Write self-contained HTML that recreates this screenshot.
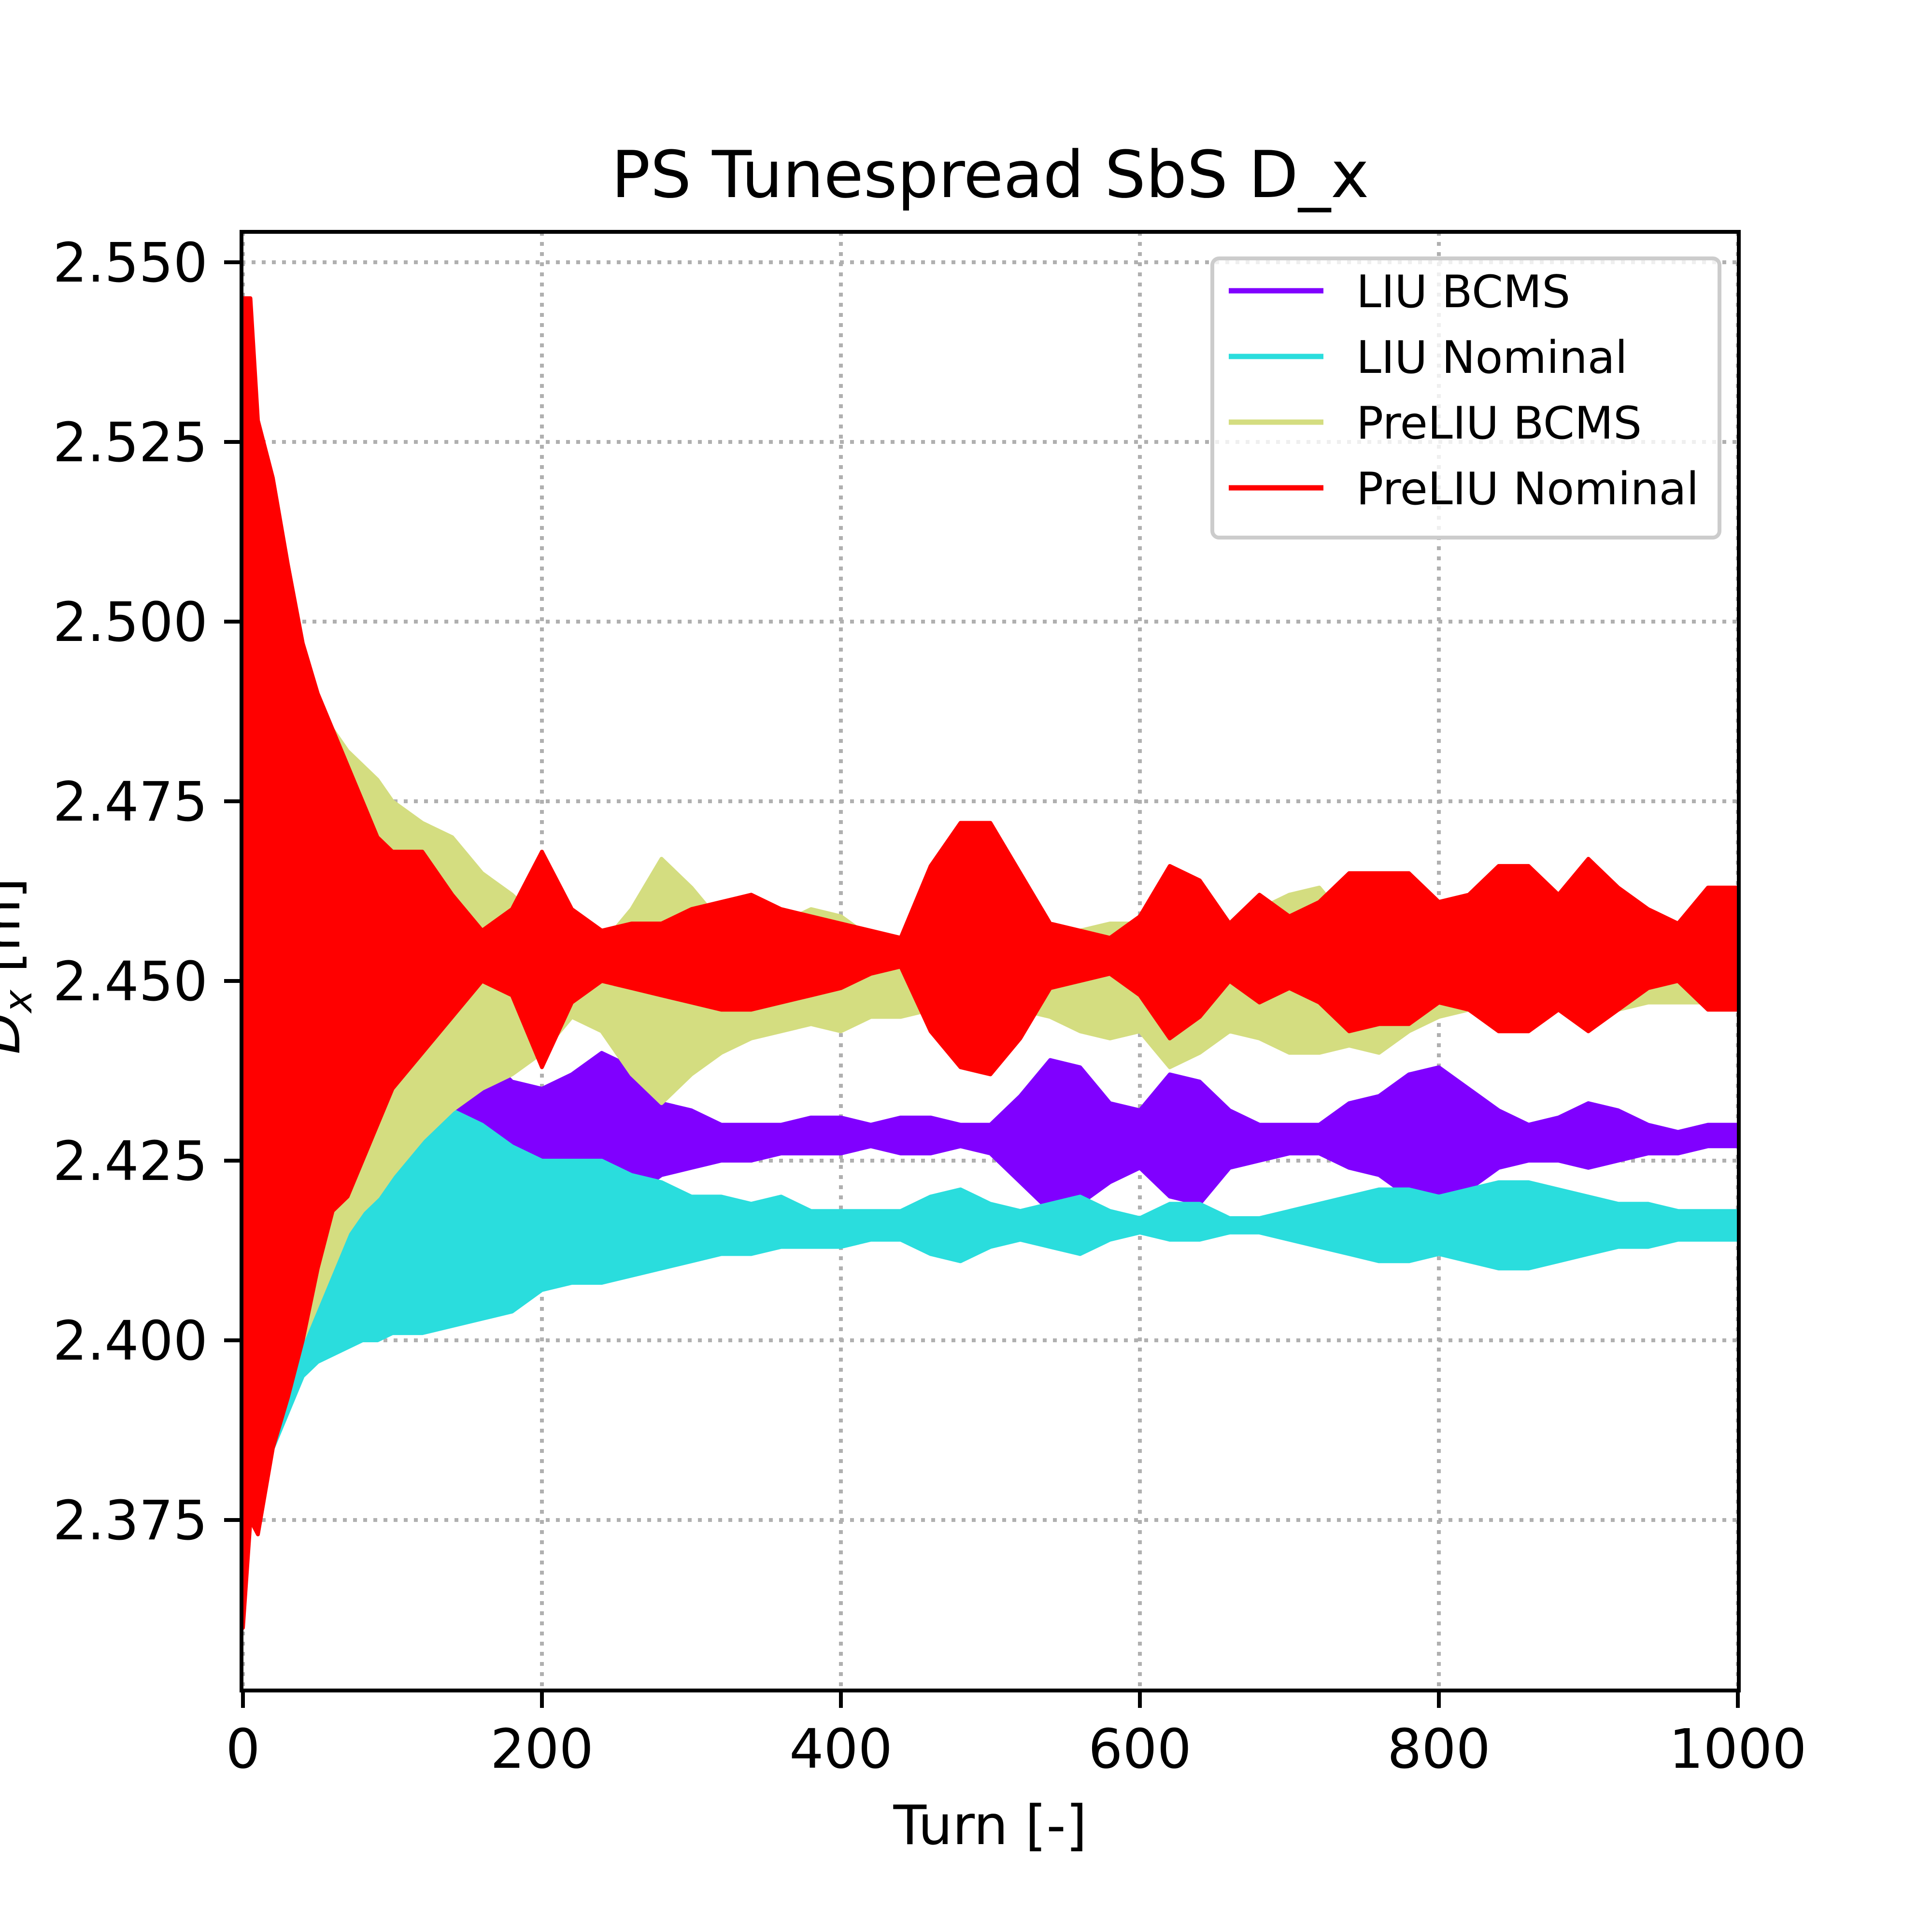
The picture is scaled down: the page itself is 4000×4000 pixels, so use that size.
<!DOCTYPE html>
<html><head><meta charset="utf-8"><style>
html,body{margin:0;padding:0;background:#fff}
svg{display:block}
text{font-family:"DejaVu Sans","Liberation Sans",sans-serif;fill:#000}
</style></head><body>
<svg id="chart" width="4000" height="4000" viewBox="0 0 4000 4000" xmlns="http://www.w3.org/2000/svg">
<rect width="4000" height="4000" fill="#fff"/>
<g id="grid"></g>
<g id="series"></g>
<g id="axes"></g>
<text x="2050" y="408" font-size="134" text-anchor="middle">PS Tunespread SbS D_x</text>
<text x="2050" y="3818" font-size="112" text-anchor="middle">Turn [-]</text>
<text transform="translate(40,2000) rotate(-90)" font-size="112" text-anchor="middle"><tspan font-style="italic">D</tspan><tspan font-style="italic" font-size="80" dy="25">x</tspan><tspan dy="-25"> [m]</tspan></text>
<g id="legend">
<rect x="2510" y="535" width="1050" height="578" rx="14" fill="#fff" fill-opacity="0.8" stroke="#cccccc" stroke-width="8"/>
</g>
</svg>
<script>
const turns=[0,5,10,20,30,40,50,60,70,80,90,100,120,140,160,180,200,220,240,260,280,300,320,340,360,380,400,420,440,460,480,500,520,540,560,580,600,620,640,660,680,700,720,740,760,780,800,820,840,860,880,900,920,940,960,980,1000];
const liuBcmsHi=[2.38,2.385,2.40,2.41,2.415,2.42,2.423,2.425,2.427,2.428,2.429,2.43,2.432,2.433,2.44,2.436,2.435,2.437,2.44,2.438,2.433,2.432,2.43,2.43,2.43,2.431,2.431,2.43,2.431,2.431,2.43,2.43,2.434,2.439,2.438,2.433,2.432,2.437,2.436,2.432,2.43,2.43,2.43,2.433,2.434,2.437,2.438,2.435,2.432,2.43,2.431,2.433,2.432,2.43,2.429,2.43,2.43];
const liuBcmsLo=[2.375,2.378,2.382,2.39,2.395,2.40,2.403,2.405,2.407,2.408,2.409,2.41,2.413,2.42,2.422,2.422,2.42,2.42,2.418,2.42,2.423,2.424,2.425,2.425,2.426,2.426,2.426,2.427,2.426,2.426,2.427,2.426,2.422,2.418,2.419,2.422,2.424,2.42,2.419,2.424,2.425,2.426,2.426,2.424,2.423,2.42,2.419,2.421,2.424,2.425,2.425,2.424,2.425,2.426,2.426,2.427,2.427];
const liuNomHi=[2.38,2.39,2.395,2.405,2.41,2.415,2.417,2.418,2.42,2.422,2.425,2.43,2.432,2.432,2.43,2.427,2.425,2.425,2.425,2.423,2.422,2.42,2.42,2.419,2.42,2.418,2.418,2.418,2.418,2.42,2.421,2.419,2.418,2.419,2.42,2.418,2.417,2.419,2.419,2.417,2.417,2.418,2.419,2.42,2.421,2.421,2.42,2.421,2.422,2.422,2.421,2.42,2.419,2.419,2.418,2.418,2.418];
const liuNomLo=[2.372,2.375,2.38,2.385,2.39,2.395,2.397,2.398,2.399,2.40,2.40,2.401,2.401,2.402,2.403,2.404,2.407,2.408,2.408,2.409,2.41,2.411,2.412,2.412,2.413,2.413,2.413,2.414,2.414,2.412,2.411,2.413,2.414,2.413,2.412,2.414,2.415,2.414,2.414,2.415,2.415,2.414,2.413,2.412,2.411,2.411,2.412,2.411,2.41,2.41,2.411,2.412,2.413,2.413,2.414,2.414,2.414];
const preBcmsHi=[2.40,2.44,2.46,2.475,2.485,2.488,2.487,2.485,2.482,2.48,2.478,2.475,2.472,2.47,2.465,2.462,2.458,2.455,2.455,2.46,2.467,2.463,2.458,2.456,2.458,2.46,2.459,2.456,2.456,2.452,2.455,2.455,2.455,2.456,2.457,2.458,2.458,2.457,2.456,2.458,2.46,2.462,2.463,2.458,2.457,2.455,2.458,2.458,2.457,2.457,2.456,2.456,2.456,2.456,2.455,2.457,2.457];
const preBcmsLo=[2.36,2.38,2.385,2.39,2.395,2.40,2.405,2.41,2.415,2.418,2.42,2.423,2.428,2.432,2.435,2.437,2.44,2.445,2.443,2.437,2.433,2.437,2.44,2.442,2.443,2.444,2.443,2.445,2.445,2.446,2.446,2.446,2.446,2.445,2.443,2.442,2.443,2.438,2.44,2.443,2.442,2.44,2.44,2.441,2.44,2.443,2.445,2.446,2.446,2.445,2.446,2.447,2.446,2.447,2.447,2.447,2.447];
const preNomHi=[2.545,2.545,2.528,2.52,2.508,2.497,2.49,2.485,2.48,2.475,2.47,2.468,2.468,2.462,2.457,2.46,2.468,2.46,2.457,2.458,2.458,2.46,2.461,2.462,2.46,2.459,2.458,2.457,2.456,2.466,2.472,2.472,2.465,2.458,2.457,2.456,2.459,2.466,2.464,2.458,2.462,2.459,2.461,2.465,2.465,2.465,2.461,2.462,2.466,2.466,2.462,2.467,2.463,2.46,2.458,2.463,2.463];
const preNomLo=[2.36,2.375,2.373,2.385,2.392,2.40,2.41,2.418,2.42,2.425,2.43,2.435,2.44,2.445,2.45,2.448,2.438,2.447,2.45,2.449,2.448,2.447,2.446,2.446,2.447,2.448,2.449,2.451,2.452,2.443,2.438,2.437,2.442,2.449,2.45,2.451,2.448,2.442,2.445,2.45,2.447,2.449,2.447,2.443,2.444,2.444,2.447,2.446,2.443,2.443,2.446,2.443,2.446,2.449,2.45,2.446,2.446];
const xTicks=[0,200,400,600,800,1000];
const yTicks=[2.375,2.400,2.425,2.450,2.475,2.500,2.525,2.550];
const seriesNames=["LIU BCMS","LIU Nominal","PreLIU BCMS","PreLIU Nominal"];

const NS="http://www.w3.org/2000/svg";
const L=500,R=3600,T=480,B=3500;
function xs(t){return 503+t*3.095;}
function ys(v){return 543+(2.55-v)/0.025*372;}
function mk(tag,attrs,parent){const e=document.createElementNS(NS,tag);for(const k in attrs)e.setAttribute(k,attrs[k]);parent.appendChild(e);return e;}
const grid=document.getElementById('grid'),axes=document.getElementById('axes'),ser=document.getElementById('series'),leg=document.getElementById('legend');
xTicks.forEach(t=>{
  const g=mk('line',{x1:xs(t),x2:xs(t),y1:T,y2:B,stroke:'#b0b0b0','stroke-width':8,'stroke-dasharray':'8,13'},grid);
  
  
  const tk=mk('line',{x1:xs(t),x2:xs(t),y1:B,y2:B+36,stroke:'#000','stroke-width':8},axes);
  
  
  const lb=mk('text',{x:xs(t),y:B+160,'font-size':112,'text-anchor':'middle'},axes);
  lb.textContent=String(t);
  
  
});
yTicks.forEach(v=>{
  const g=mk('line',{x1:L,x2:R,y1:ys(v),y2:ys(v),stroke:'#b0b0b0','stroke-width':8,'stroke-dasharray':'8,13'},grid);
  
  
  const tk=mk('line',{x1:L-36,x2:L,y1:ys(v),y2:ys(v),stroke:'#000','stroke-width':8},axes);
  
  
  const lb=mk('text',{x:L-70,y:ys(v)+40,'font-size':112,'text-anchor':'end'},axes);
  lb.textContent=v.toFixed(3);
  
  
});
const sp=mk('rect',{x:L,y:T,width:R-L,height:B-T,fill:'none',stroke:'#000','stroke-width':8},axes);


const cols=['#8000ff','#2adddd','#d4dd80','#ff0000'];
const his=[liuBcmsHi,liuNomHi,preBcmsHi,preNomHi],los=[liuBcmsLo,liuNomLo,preBcmsLo,preNomLo];
const keys=['liu-bcms','liu-nominal','preliu-bcms','preliu-nominal'];
for(let s=0;s<4;s++){
  let d='';
  turns.forEach((t,i)=>{d+=(i?'L':'M')+xs(t).toFixed(1)+','+ys(his[s][i]).toFixed(1);});
  for(let i=turns.length-1;i>=0;i--)d+='L'+xs(turns[i]).toFixed(1)+','+ys(los[s][i]).toFixed(1);
  d+='Z';
  const p=mk('path',{d:d,fill:cols[s],stroke:cols[s],'stroke-width':8,'stroke-linejoin':'round'},ser);
  
  
  const ly=602+s*136;
  const ll=mk('line',{x1:2544,x2:2740,y1:ly,y2:ly,stroke:cols[s],'stroke-width':11},leg);
  
  
  const lt=mk('text',{x:2808,y:ly+34,'font-size':93},leg);
  lt.textContent=seriesNames[s];
  
  
}
</script>
</body></html>
